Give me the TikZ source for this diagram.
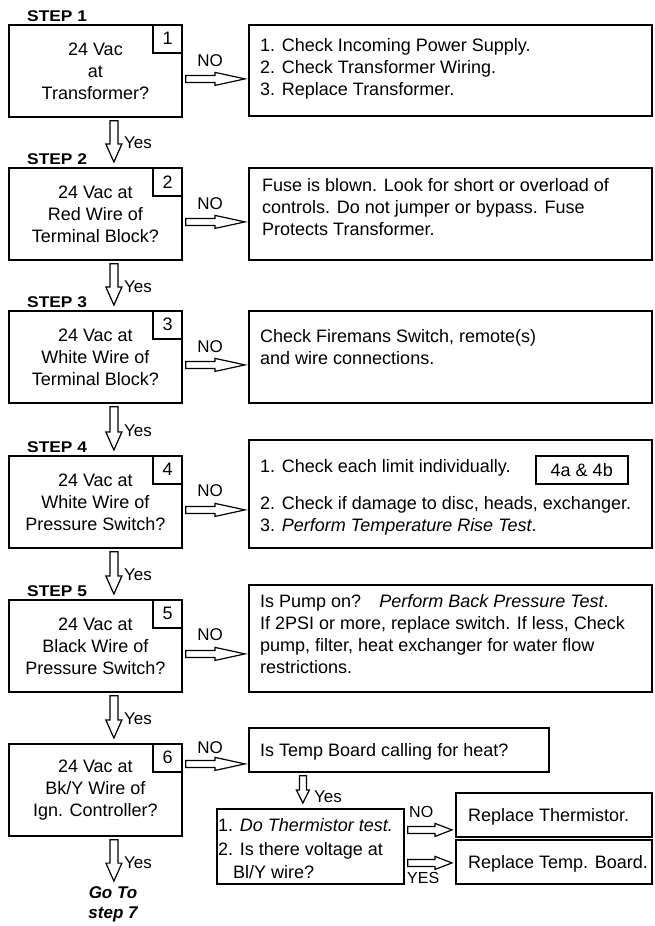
\documentclass[tikz,border=0pt]{standalone}
\usepackage{fontspec}
\setmainfont{Liberation Sans}
\usetikzlibrary{calc}
\newcommand\mfs{\fontsize{18}{22}\selectfont}
\newcommand\lfs{\fontsize{17}{20}\selectfont}
\newcommand\steplbl[1]{{\fontsize{15.5}{16}\selectfont\bfseries\scalebox{1.12}[1]{#1}}}
\begin{document}
\begin{tikzpicture}[x=1pt,y=-1pt,
 stepbox/.style={draw, line width=1.8pt, minimum width=173pt, minimum height=92pt, inner sep=0pt, align=center, font=\mfs, anchor=north west},
 numbox/.style={draw, line width=1.5pt, minimum width=29pt, minimum height=28pt, inner sep=0pt, font=\mfs, anchor=north east},
 rbox/.style={draw, line width=1.8pt, inner sep=0pt, anchor=north west},
 btext/.style={anchor=base west, align=left, font=\mfs, inner sep=0pt},
 lbl/.style={font=\lfs, inner sep=0pt},
 ylbl/.style={font=\lfs, inner sep=0pt, anchor=west},
 steplabel/.style={anchor=base west, inner sep=0pt},
 harrow/.style n args={3}{line width=1.2pt, to path={let \p1=(\tikztostart), \p2=(\tikztotarget) in (\x1+3pt,\y1+#2) -- (\x2-3pt-#1,\y1+#2) -- (\x2-3pt-#1,\y1+#3) -- (\x2-3pt,\y1) -- (\x2-3pt-#1,\y1-#3) -- (\x2-3pt-#1,\y1-#2) -- (\x1+3pt,\y1-#2) -- cycle}},
 varrow/.style n args={3}{line width=1.2pt, to path={let \p1=(\tikztostart), \p2=(\tikztotarget) in (\x1-#2,\y1-3pt) -- (\x1-#2,\y2+5pt+#1) -- (\x1-#3,\y2+5pt+#1) -- (\x1,\y2+5pt) -- (\x1+#3,\y2+5pt+#1) -- (\x1+#2,\y2+5pt+#1) -- (\x1+#2,\y1-3pt) -- cycle}},
]
\useasboundingbox (0,0) rectangle (655,926);

% step boxes
\node[stepbox] (s1) at (8,24) {24 Vac\\at\\Transformer?};
\node[numbox] (n1) at (s1.north east) {1};
\node[steplabel] (t1) at ([shift={(19,-3)}]s1.north west) {\steplbl{STEP 1}};

\node[stepbox] (s2) at (8,167) {24 Vac at\\Red Wire of\\Terminal Block?};
\node[numbox] (n2) at (s2.north east) {2};
\node[steplabel] (t2) at ([shift={(19,-3)}]s2.north west) {\steplbl{STEP 2}};

\node[stepbox] (s3) at (8,310) {24 Vac at\\White Wire of\\Terminal Block?};
\node[numbox] (n3) at (s3.north east) {3};
\node[steplabel] (t3) at ([shift={(19,-3)}]s3.north west) {\steplbl{STEP 3}};

\node[stepbox] (s4) at (8,455) {24 Vac at\\White Wire of\\Pressure Switch?};
\node[numbox] (n4) at (s4.north east) {4};
\node[steplabel] (t4) at ([shift={(19,-3)}]s4.north west) {\steplbl{STEP 4}};

\node[stepbox] (s5) at (8,599) {24 Vac at\\Black Wire of\\Pressure Switch?};
\node[numbox] (n5) at (s5.north east) {5};
\node[steplabel] (t5) at ([shift={(19,-3)}]s5.north west) {\steplbl{STEP 5}};

\node[stepbox] (s6) at (8,743) {24 Vac at\\Bk/Y Wire of\\Ign. Controller?};
\node[numbox] (n6) at (s6.north east) {6};

\node[font=\fontsize{17}{20}\selectfont\bfseries\itshape, align=center, inner sep=0pt] (g7) at (113,904) {Go To\\step 7};

% right boxes (text nodes: base = baseline of last line)
\node[rbox, minimum width=403pt, minimum height=91pt] (r1) at (248,24) {};
\node[btext] (x1) at (260,95.5) {1. Check Incoming Power Supply.\\2. Check Transformer Wiring.\\3. Replace Transformer.};

\node[rbox, minimum width=403pt, minimum height=92pt] (r2) at (248,167) {};
\node[btext] (x2) at (262,235.5) {Fuse is blown. Look for short or overload of\\controls. Do not jumper or bypass. Fuse\\Protects Transformer.};

\node[rbox, minimum width=403pt, minimum height=92pt] (r3) at (248,310) {};
\node[btext] (x3) at (260,364.5) {Check Firemans Switch, remote(s)\\and wire connections.};

\node[rbox, minimum width=403pt, minimum height=108pt] (r4) at (248,439) {};
\node[btext] (x4a) at (260,472.5) {1. Check each limit individually.};
\node[btext] (x4b) at (260,531.5) {2. Check if damage to disc, heads, exchanger.\\3. \textit{Perform Temperature Rise Test}.};
\node[draw, line width=1.5pt, minimum width=92pt, minimum height=28pt, anchor=north west, font=\mfs, inner sep=0pt] (b4) at (535,455) {4a \& 4b};

\node[rbox, minimum width=403pt, minimum height=107pt] (r5) at (248,584) {};
\node[btext] (x5) at (260,673.5) {Is Pump on?\quad\textit{Perform Back Pressure Test}.\\If 2PSI or more, replace switch. If less, Check\\pump, filter, heat exchanger for water flow\\restrictions.};

\node[rbox, minimum width=300pt, minimum height=44pt] (r6) at (248,727) {};
\node[btext] (x6) at (260,756.5) {Is Temp Board calling for heat?};

\node[rbox, minimum width=187pt, minimum height=75pt] (th) at (216,808) {};
\node[btext, font=\fontsize{18}{23.5}\selectfont] (xth) at (218,878.5) {1. \textit{Do Thermistor test.}\\2. Is there voltage at\\\hspace*{15pt}Bl/Y wire?};

\node[rbox, minimum width=196pt, minimum height=44pt] (rt) at (455,792) {};
\node[btext] (xrt) at (468,821.5) {Replace Thermistor.};

\node[rbox, minimum width=196pt, minimum height=44pt] (rtb) at (455,839) {};
\node[btext] (xrtb) at (468,868.5) {Replace Temp. Board.};

% NO arrows
\draw[harrow={30pt}{3.5pt}{6.5pt}] ([yshift=-8pt]s1.east) to (r1.west);
\draw[harrow={30pt}{3.5pt}{6.5pt}] ([yshift=-8pt]s2.east) to (r2.west);
\draw[harrow={30pt}{3.5pt}{6.5pt}] ([yshift=-8pt]s3.east) to (r3.west);
\draw[harrow={30pt}{3.5pt}{6.5pt}] ([yshift=-8pt]s4.east) to (r4.west);
\draw[harrow={30pt}{3.5pt}{6.5pt}] ([yshift=-8pt]s5.east) to (r5.west);
\draw[harrow={30pt}{3.5pt}{6.5pt}] ([yshift=26pt]s6.east) to (r6.west);
\node[lbl] (no1) at (210,61) {NO};
\node[lbl] (no2) at (210,204) {NO};
\node[lbl] (no3) at (210,347) {NO};
\node[lbl] (no4) at (210,491) {NO};
\node[lbl] (no5) at (210,635) {NO};
\node[lbl] (no6) at (210,748) {NO};

% Yes arrows
\draw[varrow={18pt}{4pt}{8pt}] ([xshift=18.5pt]s1.south) to (s2.north);
\draw[varrow={18pt}{4pt}{8pt}] ([xshift=18.5pt]s2.south) to (s3.north);
\draw[varrow={18pt}{4pt}{8pt}] ([xshift=18.5pt]s3.south) to (s4.north);
\draw[varrow={18pt}{4pt}{8pt}] ([xshift=18.5pt]s4.south) to (s5.north);
\draw[varrow={18pt}{4pt}{8pt}] ([xshift=18.5pt]s5.south) to (s6.north);
\draw[varrow={18pt}{4pt}{8pt}] ([xshift=18.5pt]s6.south) to (g7.north);
\node[ylbl] (y1) at (124,143) {Yes};
\node[ylbl] (y2) at (124,287) {Yes};
\node[ylbl] (y3) at (124,431) {Yes};
\node[ylbl] (y4) at (124,575) {Yes};
\node[ylbl] (y5) at (124,719) {Yes};
\node[ylbl] (y6) at (124,863) {Yes};

% bottom section
\draw[varrow={13pt}{3.5pt}{6.5pt}] ([xshift=-96pt]r6.south) to (th.north);
\node[ylbl] (y7) at (314,797) {Yes};
\draw[harrow={17pt}{3.5pt}{6.5pt}] ([yshift=16.5pt]th.east) to (rt.west);
\draw[harrow={17pt}{3.5pt}{6.5pt}] ([yshift=-16.5pt]th.east) to (rtb.west);
\node[ylbl, font=\fontsize{16}{18}\selectfont] (no7) at (409,812) {NO};
\node[ylbl, font=\fontsize{16}{18}\selectfont] (yes8) at (407,878) {YES};
\end{tikzpicture}
\end{document}
